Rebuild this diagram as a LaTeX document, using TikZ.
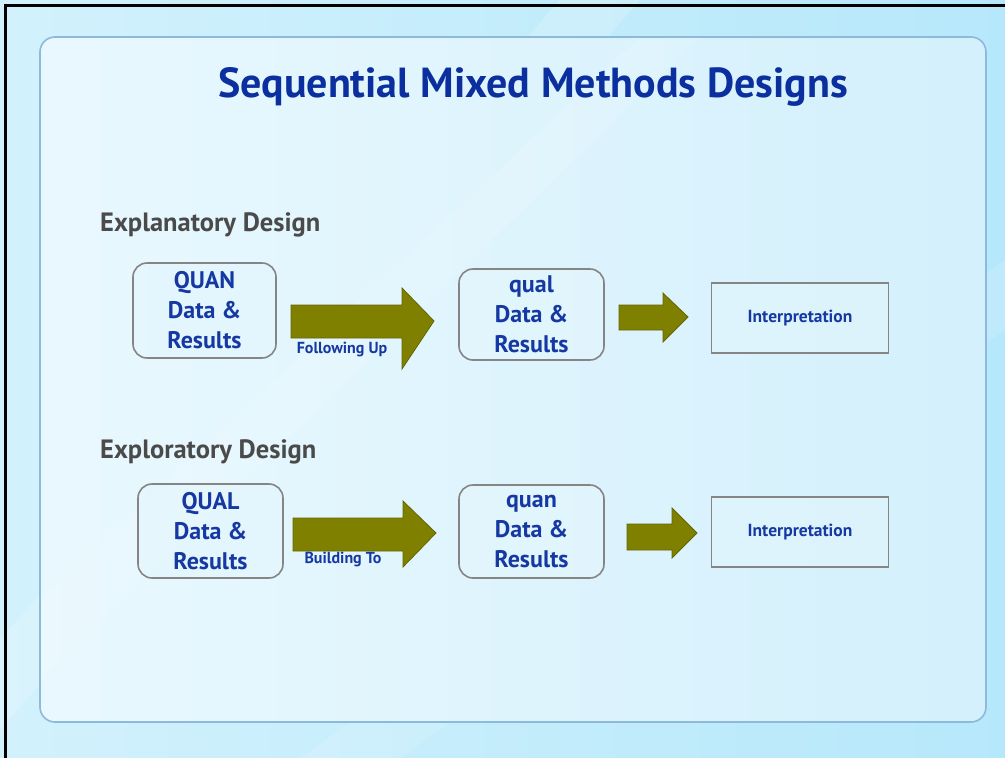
\documentclass[tikz,border=0pt]{standalone}
\usepackage{fontspec}
\setmainfont{PT Sans}
\definecolor{bgA}{HTML}{D2F1FC}
\definecolor{bgB}{HTML}{B6E8FB}
\definecolor{panA}{HTML}{E9F8FE}
\definecolor{panB}{HTML}{D3F0FC}
\definecolor{panline}{HTML}{8DB9DA}
\definecolor{titleblue}{HTML}{0B2F9E}
\definecolor{txtblue}{HTML}{1538A2}
\definecolor{graytxt}{HTML}{4A4A4A}
\definecolor{olive}{HTML}{808000}
\definecolor{olivedark}{HTML}{646400}
\definecolor{boxline}{HTML}{858585}
\definecolor{boxfill}{HTML}{E4F6FD}
\tikzset{
  roundbox/.style={draw=boxline, line width=1.6pt, fill=boxfill, fill opacity=0.6, text opacity=1,
    rounded corners=14pt, minimum width=#1, align=center, inner sep=0pt,
    font=\fontsize{24}{30}\selectfont\bfseries, text=txtblue},
  interpbox/.style={draw=boxline, line width=1.6pt, fill=boxfill, fill opacity=0.5, text opacity=1,
    minimum width=177pt, minimum height=70pt, inner sep=0pt,
    font=\fontsize{17.5}{20}\selectfont\bfseries, text=txtblue},
  blockarrow/.style={fill=olive, draw=olivedark, line width=0.8pt, line join=miter},
  arrowlabel/.style={font=\fontsize{16}{18}\selectfont\bfseries, text=txtblue, inner sep=0pt},
  designlabel/.style={font=\fontsize{26.5}{30}\selectfont\bfseries, text=graytxt, anchor=west, inner sep=0pt},
}
\begin{document}
\begin{tikzpicture}[x=1pt,y=-1pt]
\useasboundingbox (0,0) rectangle (1005,758);
% background
\shade[left color=bgA, right color=bgB] (0,0) rectangle (1005,758);
\fill[white, opacity=0.18] (0,640) -- (560,0) -- (640,0) -- (0,730) -- cycle;
\fill[white, opacity=0.12] (300,758) -- (1005,260) -- (1005,330) -- (400,758) -- cycle;
% panel
\shade[left color=panA, right color=panB, rounded corners=15pt] (40,37) rectangle (986,722);
\fill[white, opacity=0.12] (40,600) -- (640,37) -- (700,37) -- (40,680) -- cycle;
\draw[panline, line width=1.6pt, rounded corners=15pt] (40,37) rectangle (986,722);
% black frame edges
\draw[black, line width=3pt] (5,758) -- (5,5) -- (1005,5);
% title
\node[font=\fontsize{42}{48}\selectfont\bfseries, text=titleblue, inner sep=0pt] (title) at (533,87) {Sequential Mixed Methods Designs};
% explanatory
\node[designlabel] (expl) at (100,225) {Explanatory Design};
\node[roundbox=143pt, minimum height=95pt] (quan) at (204.5,310.5) {QUAN\\Data \&\\Results};
\node[roundbox=145pt, minimum height=91pt] (qual2) at (531.5,314.5) {qual\\Data \&\\Results};
\node[interpbox] (int1) at (800,318) {Interpretation};
\path[blockarrow] (291,305) -- (402,305) -- (402,288) -- (434,321) -- (402,369) -- (402,338) -- (291,338) -- cycle;
\path[blockarrow] (619,305) -- (663,305) -- (663,293) -- (688,317) -- (663,342) -- (663,330) -- (619,330) -- cycle;
\node[arrowlabel] (fu) at (342,350) {Following Up};
% exploratory
\node[designlabel] (explo) at (100,452) {Exploratory Design};
\node[roundbox=145pt, minimum height=94pt] (qualL) at (210.5,531) {QUAL\\Data \&\\Results};
\node[roundbox=145pt, minimum height=93pt] (quan2) at (531.5,531.5) {quan\\Data \&\\Results};
\node[interpbox] (int2) at (800,532) {Interpretation};
\path[blockarrow] (293,518) -- (403,518) -- (403,501) -- (436,533) -- (403,567) -- (403,551) -- (293,551) -- cycle;
\path[blockarrow] (627,524) -- (672,524) -- (672,508) -- (697,533) -- (672,558) -- (672,550) -- (627,550) -- cycle;
\node[arrowlabel] (bt) at (343,560) {Building To};
\end{tikzpicture}
\end{document}
